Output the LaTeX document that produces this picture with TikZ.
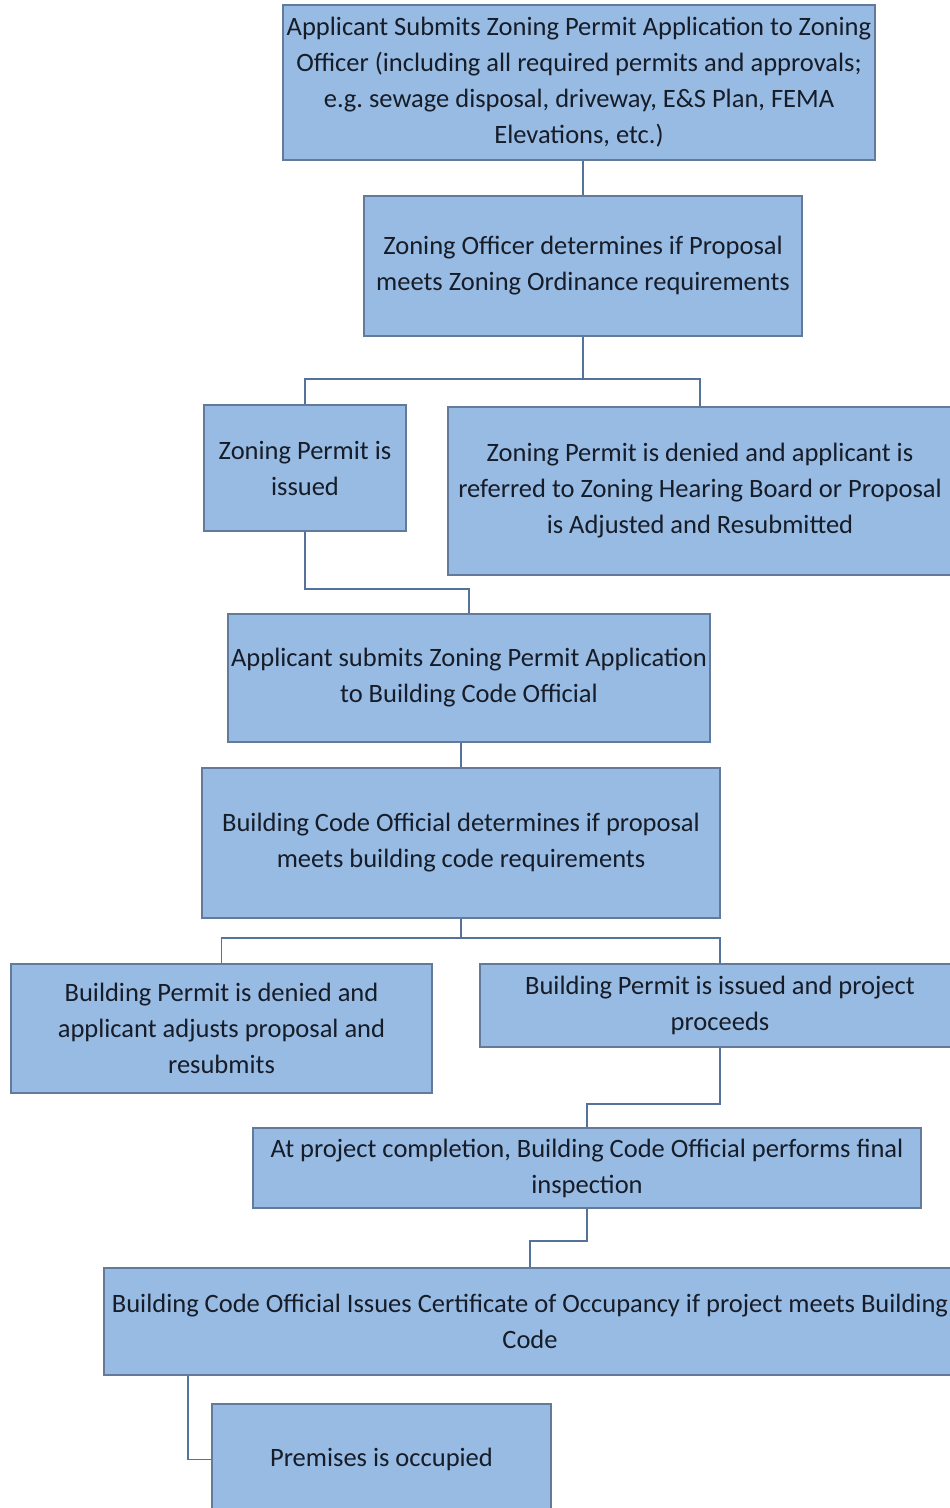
\documentclass[tikz,border=0pt]{standalone}
\usepackage{fontspec}
\setmainfont{Carlito}
\definecolor{boxfill}{RGB}{152,187,227}
\definecolor{boxedge}{RGB}{100,122,155}
\definecolor{boxtext}{RGB}{22,28,40}
\definecolor{linkcolor}{RGB}{84,114,156}
\begin{document}
\begin{tikzpicture}
        [x=1pt,y=-1pt,
        boxdecorate/.style={shape=rectangle,draw=boxedge,fill=boxfill,line width=1.5pt,inner sep=0pt,
          align=center,text=boxtext,font=\fontsize{26.5}{36}\selectfont},%
        linkdecorate/.style={-,draw=linkcolor,line width=1.8pt}]
        \useasboundingbox (0,0) rectangle (950,1508);
        \clip (0,0) rectangle (950,1508);
        %% boxes
        \foreach \nodename/\x/\y/\w/\h/\content in {
          apply/579/82.5/592/155/{Applicant Submits Zoning Permit Application to Zoning\\Officer (including all required permits and approvals;\\e.g.\ sewage disposal, driveway, E\&S Plan, FEMA\\Elevations, etc.)},
          officer/583/266/438/140/{Zoning Officer determines if Proposal\\meets Zoning Ordinance requirements},
          issued/305/468/202/126/{Zoning Permit is\\issued},
          denied/700/491/504/168/{Zoning Permit is denied and applicant is\\referred to Zoning Hearing Board or Proposal\\is Adjusted and Resubmitted},
          submit/469/678/482/128/{Applicant submits Zoning Permit Application\\to Building Code Official},
          review/461/843/518/150/{Building Code Official determines if proposal\\meets building code requirements},
          refused/221.5/1028.5/421/129/{Building Permit is denied and\\applicant adjusts proposal and\\resubmits},
          granted/720/1005.5/480/83/{Building Permit is issued and project\\proceeds},
          inspect/587/1168/668/80/{At project completion, Building Code Official performs final\\inspection},
          certify/530/1321.5/852/107/{Building Code Official Issues Certificate of Occupancy if project meets Building\\Code},
          occupy/381.5/1459.5/339/111/{Premises is occupied}}
        {
          \node (\nodename) at (\x,\y) [boxdecorate,minimum width=\w pt,minimum height=\h pt] {\content};
        }
        %% connectors
        \draw[linkdecorate] (officer.north) -- (officer.north |- apply.south);
        \draw[linkdecorate] (officer.south) -- ++(0,42) coordinate (zsplit) -| (issued.north);
        \draw[linkdecorate] (zsplit) -| (denied.north);
        \draw[linkdecorate] (issued.south) -- ++(0,57) -| (submit.north);
        \draw[linkdecorate] (review.north) -- (review.north |- submit.south);
        \draw[linkdecorate] (review.south) -- ++(0,19) coordinate (bsplit) -| (refused.north);
        \draw[linkdecorate] (bsplit) -| (granted.north);
        \draw[linkdecorate] (granted.south) -- ++(0,56) -| (inspect.north);
        \draw[linkdecorate] (inspect.south) -- ++(0,32) -| (certify.north);
        \coordinate (drop) at ([xshift=-23pt]occupy.west);
        \draw[linkdecorate] (drop |- certify.south) |- (occupy.west);
\end{tikzpicture}
\end{document}
